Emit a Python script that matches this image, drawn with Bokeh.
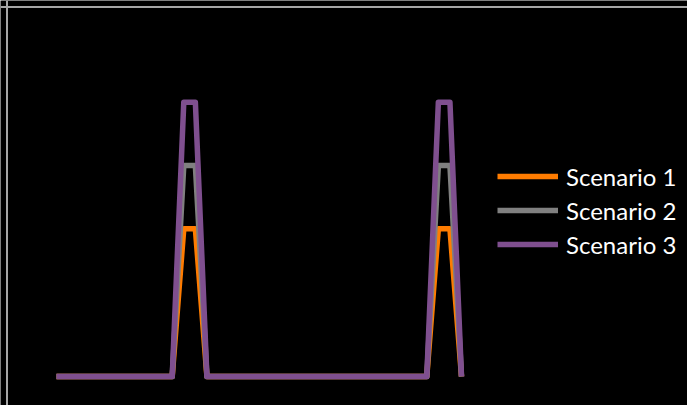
from bokeh.plotting import figure
from bokeh.models import Range1d, Legend, LegendItem, Span
from bokeh.embed import file_html
from bokeh.resources import INLINE

x = list(range(36))
scenario_1 = [0, 0, 0, 0, 0, 0, 0, 0, 0, 0, 0, 70, 70, 0, 0, 0, 0, 0,
              0, 0, 0, 0, 0, 0, 0, 0, 0, 0, 0, 0, 0, 0, 0, 70, 70, 0]
scenario_2 = [0, 0, 0, 0, 0, 0, 0, 0, 0, 0, 0, 100, 100, 0, 0, 0, 0, 0,
              0, 0, 0, 0, 0, 0, 0, 0, 0, 0, 0, 0, 0, 0, 0, 100, 100, 0]
scenario_3 = [0, 0, 0, 0, 0, 0, 0, 0, 0, 0, 0, 130, 130, 0, 0, 0, 0, 0,
              0, 0, 0, 0, 0, 0, 0, 0, 0, 0, 0, 0, 0, 0, 0, 130, 130, 0]
labels = ["Scenario 1", "Scenario 2", "Scenario 3"]
colors = ["#FF7C00", "#808080", "#7F4F8F"]

W, H = 687, 405
x0, x1 = -4.8395, 54.53
y0, y1 = -13.744, 178.2
p = figure(width=W, height=H, output_backend="svg", toolbar_location=None,
           x_axis_location=None, y_axis_location=None,
           x_range=Range1d(x0, x1), y_range=Range1d(y0, y1),
           min_border=0, background_fill_color="black", border_fill_color="black",
           outline_line_color=None)
p.grid.visible = False

# chart-area border (top and left edges only are within view)
px_per_x = W / (x1 - x0)
px_per_y = H / (y1 - y0)
p.add_layout(Span(location=x0 + 6.5 / px_per_x, dimension="height",
                  line_color="#a6a6a6", line_width=2))
p.add_layout(Span(location=y1 - 6.5 / px_per_y, dimension="width",
                  line_color="#a6a6a6", line_width=2))

items = []
for ys, lab, col in zip([scenario_1, scenario_2, scenario_3], labels, colors):
    r = p.line(x, ys, line_color=col, line_width=5.5, line_join="round", line_cap="butt")
    items.append(LegendItem(label=lab, renderers=[r]))

legend = Legend(items=items, location=(497, 144), padding=0, margin=0, spacing=0,
                glyph_width=61, glyph_height=34, label_height=34, label_standoff=8,
                label_text_color="white", label_text_font="Lato", label_text_font_size="24px",
                background_fill_alpha=0, border_line_alpha=0)
p.add_layout(legend)

html = file_html(p, INLINE)
html = html.replace("<body>", '<body style="background:black">', 1)
open("out.html", "w").write(html)
